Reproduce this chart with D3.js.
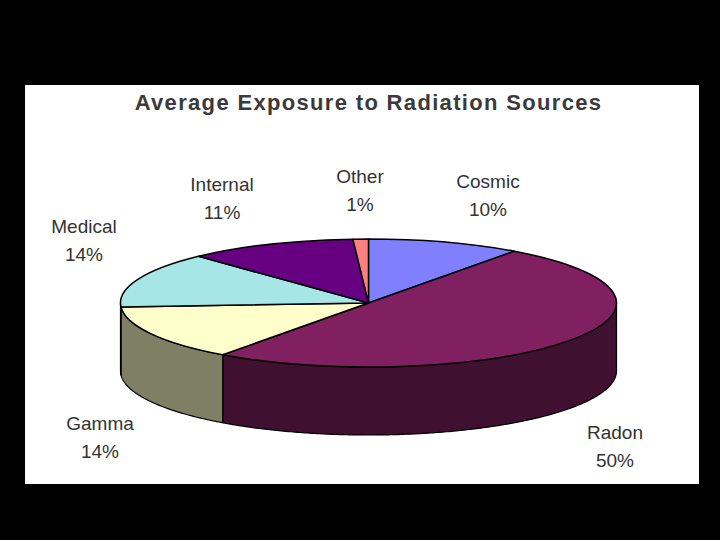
<!DOCTYPE html>
<html><head><meta charset="utf-8">
<script src="https://cdn.jsdelivr.net/npm/d3@7/dist/d3.min.js"></script>
<style>html,body{margin:0;padding:0;background:#000}svg{display:block}
text{font-family:"Liberation Sans",Arial,sans-serif}</style></head>
<body><svg id="c" width="720" height="540"></svg>
<script>
const titleText = "Average Exposure to Radiation Sources";
const categories = ["Cosmic","Radon","Gamma","Medical","Internal","Other"];
const values = [10,50,14,14,11,1];
const topColors = ["#8080ff","#802060","#ffffcc","#a6e6e6","#660080","#ff8080"];
const sideColors = ["#40406f","#401030","#7f7f66","#53737a","#330040","#7f4040"];

const W=720,H=540, cx=368.5, cy=303, rx=248, ry=64, depth=68;
const labelPos = {Cosmic:[488,182],Radon:[615,433],Gamma:[100,424],Medical:[84,227],Internal:[222,185],Other:[360,177]};

const svg=d3.select("#c");
svg.append("rect").attr("width",W).attr("height",H).attr("fill","#000");
svg.append("rect").attr("x",25).attr("y",85).attr("width",674).attr("height",399).attr("fill","#fff");

svg.append("text").attr("x",368.5).attr("y",110).attr("text-anchor","middle")
  .attr("font-size",22).attr("font-weight","bold").attr("letter-spacing",1.33).attr("fill","#3a3a3a").text(titleText);

const pie=d3.pie().sort(null).value(d=>d)(values);
const px=d3.scaleLinear().domain([-1,1]).range([cx-rx,cx+rx]);
const py=d3.scaleLinear().domain([-1,1]).range([cy-ry,cy+ry]);
const pt=(a,dy=0)=>[px(Math.sin(a)),py(-Math.cos(a))+dy];
const front=[Math.PI/2,Math.PI*3/2];

// side wall
pie.forEach((s,i)=>{
  const a0=Math.max(s.startAngle,front[0]),a1=Math.min(s.endAngle,front[1]);
  if(a1<=a0) return;
  const as=d3.range(a0,a1,0.01).concat([a1]);
  const pts=as.map(a=>pt(a)).concat(as.slice().reverse().map(a=>pt(a,depth)));
  svg.append("path").attr("d",d3.line()(pts)+"Z").attr("fill",sideColors[i])
    .attr("stroke","#000").attr("stroke-width",1.2).attr("stroke-linejoin","round");
});

// top
const arc=d3.arc().innerRadius(0).outerRadius(1);
const topG=svg.append("g").attr("transform",`translate(${cx},${cy}) scale(${rx},${ry})`);
pie.forEach((s,i)=>{
  topG.append("path").attr("d",arc(s)).attr("fill",topColors[i])
    .attr("stroke","#000").attr("stroke-width",1.5).attr("vector-effect","non-scaling-stroke").attr("stroke-linejoin","round");
});

// labels
categories.forEach((c,i)=>{
  const [x,y]=labelPos[c];
  const g=svg.append("g").attr("text-anchor","middle").attr("fill","#333").attr("font-size",19);
  g.append("text").attr("x",x).attr("y",y+6).text(c);
  g.append("text").attr("x",x).attr("y",y+34).text(values[i]+"%");
});
</script></body></html>
